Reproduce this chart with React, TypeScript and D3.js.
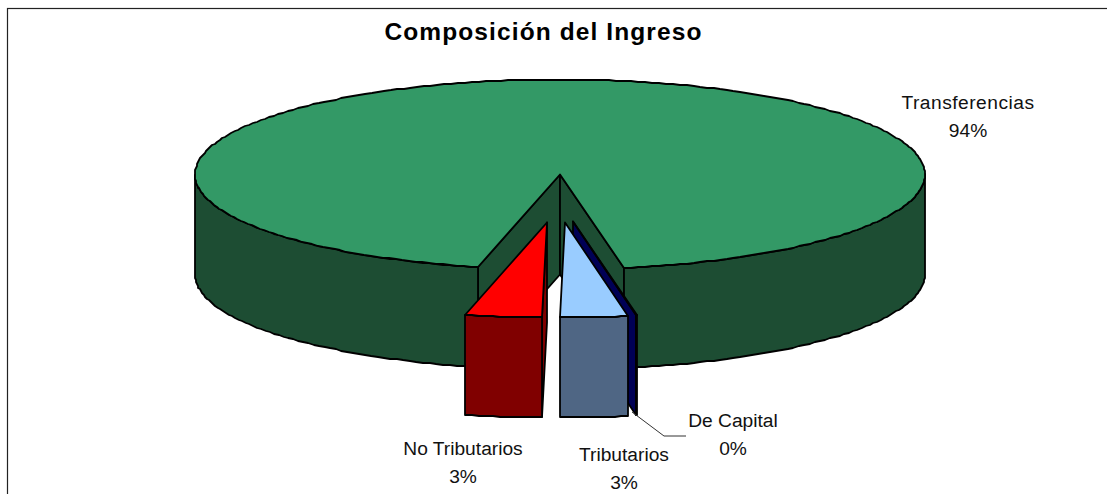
import React from "react";
import * as d3 from "d3";

// values
const categories = ["Transferencias", "De Capital", "Tributarios", "No Tributarios"];
const shares = [93.6, 0.02, 2.98, 3.4];

const topColors = ["#339966", "#000066", "#99ccff", "#ff0000"];
const sideColors = ["#1d4d33", "#000055", "#4f6684", "#800000"];
const explodeX = [0, 13, 5, -13];
const explodeY = [0, 47, 48, 48];

const W = 1107;
const H = 494;
const cx = 560;
const cy = 174.5;
const rx = 365;
const ry = 95;
const depth = 100;
const startDeg = 193;

const pieGen = d3
  .pie<number>()
  .sort(null)
  .startAngle((startDeg * Math.PI) / 180)
  .endAngle(((startDeg + 360) * Math.PI) / 180);

const lineGen = d3.line<[number, number]>();

type Pt = [number, number];

// outline of the old chart is a bit rough, so points snap to whole pixels
function rim(a: number, ox: number, oy: number): Pt {
  return [Math.round(cx + ox + rx * Math.sin(a)), Math.round(cy + oy - ry * Math.cos(a))];
}

function arcPts(a0: number, a1: number, ox: number, oy: number): Pt[] {
  const n = Math.max(1, Math.ceil(Math.abs(a1 - a0) / 0.02));
  const pts: Pt[] = [];
  for (let i = 0; i <= n; i++) pts.push(rim(a0 + ((a1 - a0) * i) / n, ox, oy));
  return pts;
}

const down = (pts: Pt[]): Pt[] => pts.map(([x, y]) => [x, y + depth] as Pt).reverse();

// parts of a slice's outer wall that face the viewer
function frontWalls(a0: number, a1: number, ox: number, oy: number): string[] {
  const out: string[] = [];
  for (let k = 0; k < 3; k++) {
    const lo = Math.max(a0, Math.PI / 2 + k * 2 * Math.PI);
    const hi = Math.min(a1, (3 * Math.PI) / 2 + k * 2 * Math.PI);
    if (hi > lo) {
      const p = arcPts(lo, hi, ox, oy);
      out.push(lineGen([...p, ...down(p)])! + "Z");
    }
  }
  return out;
}

function innerWall(a: number, ox: number, oy: number): string {
  const apex: Pt = [cx + ox, cy + oy];
  const p = rim(a, ox, oy);
  return lineGen([apex, p, [p[0], p[1] + depth], [apex[0], apex[1] + depth]])! + "Z";
}

function topFace(a0: number, a1: number, ox: number, oy: number): string {
  return lineGen([[cx + ox, cy + oy], ...arcPts(a0, a1, ox, oy)])! + "Z";
}

const fontFamily = "'Liberation Sans', Arial, sans-serif";

const labelLayout = [
  { x: 968, y: 108.5, spacing: 0.5 },
  { x: 733, y: 427, spacing: 0 },
  { x: 624, y: 461, spacing: 0 },
  { x: 463, y: 455, spacing: 0 },
];

const leaderLine = lineGen([
  [632, 412],
  [664, 436],
  [686, 436],
])!;

export default function App() {
  const slices = pieGen(shares);
  const total = d3.sum(shares);
  const edge = { stroke: "#000", strokeWidth: 1.8, strokeLinejoin: "round" as const };

  return (
    <svg
      width={W}
      height={H}
      style={{ position: "fixed", left: 0, top: 0, background: "#fff", display: "block" }}
    >
      <rect x={7.5} y={8.5} width={W + 20} height={H + 20} fill="#fff" stroke="#222" strokeWidth={1.2} />
      <text
        x={543.5}
        y={40}
        textAnchor="middle"
        fontFamily={fontFamily}
        fontWeight="bold"
        fontSize={24.5}
        letterSpacing={1.1}
        fill="#000"
      >
        Composición del Ingreso
      </text>

      {slices.map((s, i) => {
        const ox = explodeX[i];
        const oy = explodeY[i];
        return (
          <g key={categories[i]}>
            {Math.sin(s.startAngle) < 0 && (
              <path d={innerWall(s.startAngle, ox, oy)} fill={sideColors[i]} {...edge} />
            )}
            {Math.sin(s.endAngle) > 0 && (
              <path d={innerWall(s.endAngle, ox, oy)} fill={sideColors[i]} {...edge} />
            )}
            {frontWalls(s.startAngle, s.endAngle, ox, oy).map((d, j) => (
              <path key={j} d={d} fill={sideColors[i]} {...edge} />
            ))}
            <path d={topFace(s.startAngle, s.endAngle, ox, oy)} fill={topColors[i]} {...edge} />
          </g>
        );
      })}

      <path d={leaderLine} fill="none" stroke="#333" strokeWidth={1} />

      {categories.map((c, i) => (
        <text
          key={c}
          textAnchor="middle"
          fontFamily={fontFamily}
          fontSize={19.2}
          fill="#111"
        >
          <tspan x={labelLayout[i].x} y={labelLayout[i].y} letterSpacing={labelLayout[i].spacing}>
            {c}
          </tspan>
          <tspan x={labelLayout[i].x} dy={28}>
            {d3.format(".0f")((shares[i] / total) * 100)}%
          </tspan>
        </text>
      ))}
    </svg>
  );
}
